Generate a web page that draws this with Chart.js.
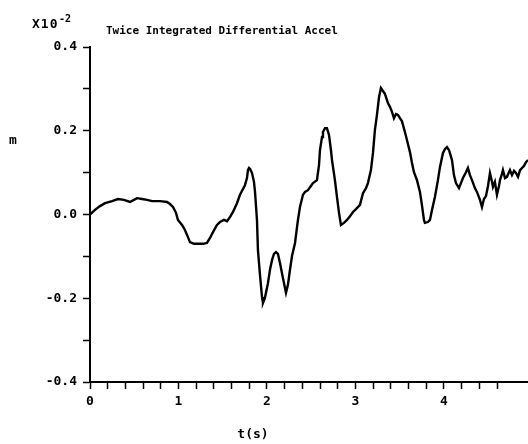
<!DOCTYPE html>
<html>
<head>
<meta charset="utf-8">
<script src="https://cdn.jsdelivr.net/npm/chart.js@4/dist/chart.umd.min.js"></script>
<style>
  html, body { margin: 0; padding: 0; background: #fff; overflow: hidden; }
  #wrap { width: 528px; height: 444px; position: relative; }
</style>
</head>
<body>
<div id="wrap"><canvas id="accelChart" width="528" height="444"></canvas></div>
<script>
// DATA (displacement in units of 1e-2 m)
const TITLE = "Twice Integrated Differential Accel";
const Y_UNIT = "m";
const X_TITLE = "t(s)";

const times = [
  0.000, 0.056, 0.113, 0.170, 0.249, 0.316, 0.384, 0.452, 0.497, 0.531,
  0.588, 0.644, 0.701, 0.791, 0.870, 0.904, 0.938, 0.972, 0.994, 1.040,
  1.073, 1.107, 1.130, 1.175, 1.220, 1.277, 1.322, 1.356, 1.390, 1.435,
  1.469, 1.514, 1.548, 1.582, 1.616, 1.661, 1.695, 1.729, 1.751, 1.774,
  1.785, 1.797, 1.808, 1.831, 1.853, 1.865, 1.887, 1.898, 1.921, 1.944,
  1.955, 1.977, 2.011, 2.034, 2.057, 2.079, 2.102, 2.124, 2.147, 2.181,
  2.215, 2.237, 2.260, 2.283, 2.317, 2.350, 2.373, 2.407, 2.430, 2.463,
  2.497, 2.520, 2.565, 2.588, 2.599, 2.622, 2.633, 2.656, 2.678, 2.701,
  2.723, 2.735, 2.768, 2.791, 2.814, 2.836, 2.870, 2.904, 2.938, 2.972,
  3.006, 3.051, 3.085, 3.119, 3.141, 3.175, 3.198, 3.220, 3.243, 3.266,
  3.288, 3.311, 3.333, 3.367, 3.390, 3.413, 3.435, 3.458, 3.480, 3.503,
  3.525, 3.559, 3.582, 3.616, 3.639, 3.661, 3.695, 3.729, 3.751, 3.774,
  3.785, 3.819, 3.842, 3.865, 3.898, 3.932, 3.955, 3.989, 4.011, 4.034,
  4.057, 4.091, 4.113, 4.136, 4.170, 4.192, 4.215, 4.249, 4.271, 4.294,
  4.317, 4.350, 4.373, 4.407, 4.430, 4.452, 4.475, 4.498, 4.520, 4.543,
  4.554, 4.576, 4.599, 4.622, 4.633, 4.656, 4.667, 4.690, 4.712, 4.735,
  4.746, 4.769, 4.792, 4.814, 4.837, 4.860, 4.882, 4.905, 4.927, 4.950
];

const displacement = [
  0.000, 0.011, 0.020, 0.027, 0.032, 0.037, 0.035, 0.030, 0.035, 0.039,
  0.037, 0.035, 0.032, 0.032, 0.030, 0.025, 0.018, 0.004, -0.013, -0.025,
  -0.037, -0.054, -0.066, -0.070, -0.070, -0.070, -0.068, -0.056, -0.042, -0.025,
  -0.018, -0.013, -0.016, -0.006, 0.006, 0.027, 0.047, 0.061, 0.070, 0.087,
  0.106, 0.111, 0.109, 0.099, 0.078, 0.054, -0.013, -0.085, -0.144, -0.197,
  -0.211, -0.199, -0.164, -0.132, -0.109, -0.094, -0.090, -0.094, -0.116, -0.152,
  -0.187, -0.168, -0.132, -0.099, -0.068, -0.013, 0.018, 0.047, 0.054, 0.058,
  0.068, 0.075, 0.082, 0.118, 0.154, 0.185, 0.197, 0.206, 0.206, 0.190,
  0.154, 0.130, 0.082, 0.042, 0.004, -0.025, -0.020, -0.013, -0.004, 0.006,
  0.013, 0.023, 0.051, 0.063, 0.075, 0.106, 0.147, 0.202, 0.238, 0.280,
  0.302, 0.295, 0.288, 0.266, 0.257, 0.245, 0.230, 0.240, 0.238, 0.230,
  0.223, 0.197, 0.178, 0.149, 0.123, 0.101, 0.082, 0.054, 0.023, -0.013,
  -0.020, -0.018, -0.013, 0.011, 0.042, 0.082, 0.113, 0.147, 0.156, 0.161,
  0.154, 0.130, 0.094, 0.075, 0.063, 0.075, 0.087, 0.101, 0.111, 0.094,
  0.082, 0.063, 0.054, 0.035, 0.018, 0.037, 0.044, 0.068, 0.099, 0.078,
  0.066, 0.078, 0.047, 0.068, 0.082, 0.097, 0.106, 0.087, 0.090, 0.101,
  0.106, 0.094, 0.104, 0.099, 0.090, 0.106, 0.111, 0.116, 0.125, 0.130
];

// AXIS RANGES
const X_MIN = 0, X_MAX = 4.95, X_STEP = 0.2;
const Y_MIN = -0.4, Y_MAX = 0.4, Y_STEP = 0.1;

const FONT_FAMILY = '"DejaVu Sans Mono", monospace';

// HELPERS
function isMultiple(value, step) {
  const q = value / step;
  return Math.abs(q - Math.round(q)) < 1e-6;
}

// Draws the title, exponent marker and unit label around the plot
const annotationPlugin = {
  id: "plotText",
  afterDraw(chart) {
    const ctx = chart.ctx;
    ctx.save();
    ctx.fillStyle = "#000";
    ctx.textBaseline = "alphabetic";

    ctx.font = "bold 11px " + FONT_FAMILY;
    ctx.textAlign = "left";
    ctx.fillText(TITLE, 106, 34);

    // X10^-2 exponent marker
    ctx.font = "bold 13px " + FONT_FAMILY;
    ctx.letterSpacing = "1px";
    ctx.fillText("X10", 32, 28);
    ctx.font = "bold 10px " + FONT_FAMILY;
    ctx.letterSpacing = "0px";
    ctx.fillText("-2", 59, 22);

    ctx.font = "bold 13px " + FONT_FAMILY;
    ctx.fillText(Y_UNIT, 9, 144);

    ctx.textAlign = "center";
    ctx.font = "bold 13px " + FONT_FAMILY;
    ctx.fillText(X_TITLE, 253, 438);
    ctx.restore();
  }
};

// CHART
const ctx = document.getElementById("accelChart").getContext("2d");

const points = times.map((t, i) => ({ x: t, y: displacement[i] }));

new Chart(ctx, {
  type: "line",
  data: {
    datasets: [{
      data: points,
      borderColor: "#000",
      borderWidth: 2.4,
      pointRadius: 0,
      tension: 0,
      fill: false
    }]
  },
  options: {
    responsive: false,
    animation: false,
    events: [],
    layout: { padding: { left: 0, top: 47, right: 0, bottom: 0 } },
    plugins: {
      legend: { display: false },
      tooltip: { enabled: false },
      title: { display: false }
    },
    scales: {
      x: {
        type: "linear",
        min: X_MIN,
        max: X_MAX,
        afterBuildTicks(scale) {
          scale.ticks = scale.ticks.filter(t => isMultiple(t.value, X_STEP));
        },
        afterFit(scale) { scale.height = 62; },
        ticks: {
          stepSize: X_STEP,
          autoSkip: false,
          maxRotation: 0,
          padding: 5,
          color: "#000",
          font: { family: FONT_FAMILY, size: 13, weight: "bold" },
          callback: v => isMultiple(v, 1) ? String(Math.round(v)) : ""
        },
        grid: {
          drawOnChartArea: false,
          drawTicks: true,
          tickLength: 7,
          tickColor: "#000",
          tickWidth: 1.5
        },
        border: { display: true, color: "#000", width: 2 }
      },
      y: {
        min: Y_MIN,
        max: Y_MAX,
        afterFit(scale) { scale.width = 90; },
        ticks: {
          stepSize: Y_STEP,
          padding: 6,
          color: "#000",
          font: { family: FONT_FAMILY, size: 13, weight: "bold" },
          callback: v => isMultiple(v, 0.2) ? (Math.round(v * 10) / 10).toFixed(1) : ""
        },
        grid: {
          drawOnChartArea: false,
          drawTicks: true,
          tickLength: 7,
          tickColor: "#000",
          tickWidth: 1.5
        },
        border: { display: true, color: "#000", width: 2 }
      }
    }
  },
  plugins: [annotationPlugin]
});
</script>
</body>
</html>
